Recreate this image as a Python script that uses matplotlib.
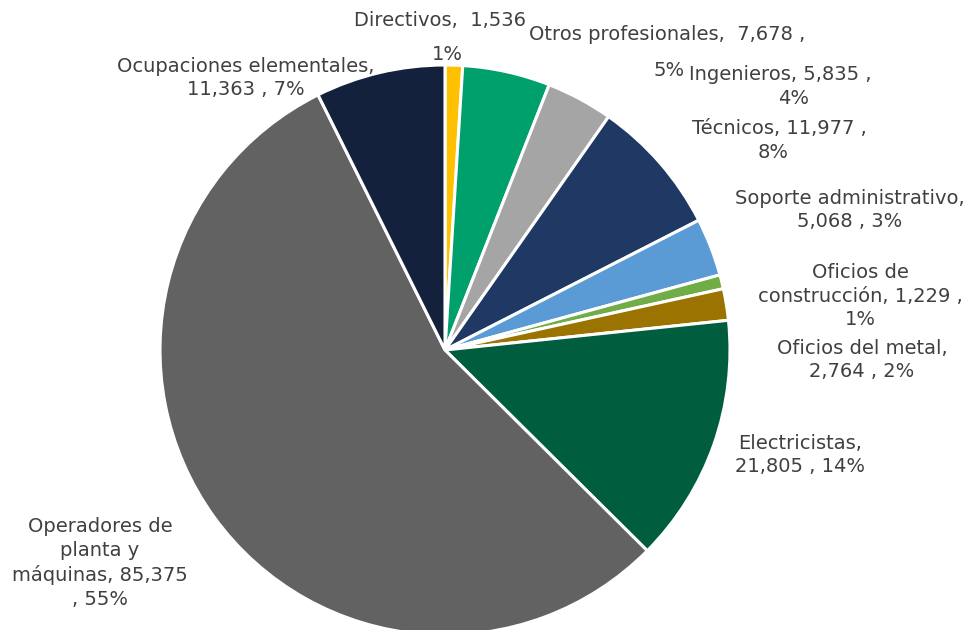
import matplotlib
matplotlib.use("Agg")
import matplotlib.pyplot as plt

# Empleo por ocupación
CATEGORIES = ["Directivos", "Otros profesionales", "Ingenieros", "Técnicos",
              "Soporte administrativo", "Oficios de construcción",
              "Oficios del metal", "Electricistas",
              "Operadores de planta y máquinas", "Ocupaciones elementales"]
VALUES = [1536, 7678, 5835, 11977, 5068, 1229, 2764, 21805, 85375, 11363]
COLORS = ["#FFC000", "#00A06C", "#A5A5A5", "#1F3864", "#5B9BD5",
          "#70AD47", "#9A7300", "#005E3E", "#626262", "#13213D"]

# label text as drawn, with its anchor (pixel coords from top-left)
LABELS = [
    ("Directivos,  1,536", 440, 20),
    ("1%", 447, 55),
    ("Otros profesionales,  7,678 ,", 667, 35),
    ("5%", 669, 70),
    ("Ingenieros, 5,835 ,", 780, 75),
    ("4%", 794, 99),
    ("Técnicos, 11,977 ,", 779, 128),
    ("8%", 773, 153),
    ("Soporte administrativo,\n5,068 , 3%", 850, 210),
    ("Oficios de\nconstrucción, 1,229 ,\n1%", 860, 296),
    ("Oficios del metal,\n2,764 , 2%", 862, 360),
    ("Electricistas,\n21,805 , 14%", 800, 455),
    ("Operadores de\nplanta y\nmáquinas, 85,375\n, 55%", 100, 563),
    ("Ocupaciones elementales,\n11,363 , 7%", 246, 78),
]

W, H = 972, 630
fig = plt.figure(figsize=(W / 100, H / 100), dpi=100)
ax = fig.add_axes([0, 0, 1, 1])

ax.pie(VALUES, colors=COLORS, startangle=90, counterclock=False,
       center=(445, H - 350), radius=285, frame=True,
       wedgeprops=dict(edgecolor="white", linewidth=2.2))
ax.set_xlim(0, W)
ax.set_ylim(0, H)
ax.set_aspect("equal")
ax.axis("off")

for text, x, y in LABELS:
    ax.text(x, H - y, text, ha="center", va="center", fontsize=14,
            color="#404040", linespacing=1.32, family="DejaVu Sans")

fig.savefig("out.png", dpi=100, facecolor="white")
